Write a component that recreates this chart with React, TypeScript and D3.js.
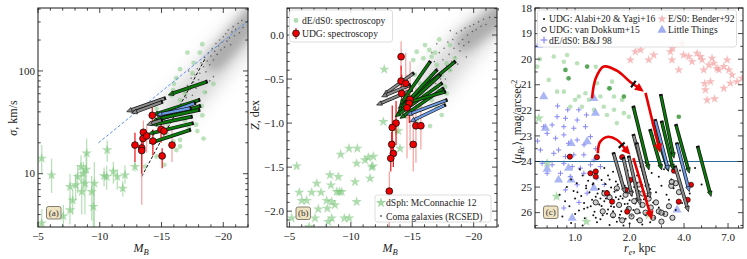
import React, { useEffect, useRef } from "react";
import * as d3 from "d3";

const W = 747, H = 259;
const FONT = "'Liberation Serif','DejaVu Serif',serif";

// ---------------- Panel (a): sigma vs M_B ----------------
const dsphA = [
  [-5.3, 14.1, 10, 19], [-6.1, 9.7, 6.5, 14], [-8.94, 15.8, 10, 22], [-10.6, 17.0, 13, 21], [-8.48, 11.7, 8, 15],
  [-8.9, 11.0, 7, 16], [-8.67, 10.0, 7, 13], [-8.21, 9.35, 6.5, 12], [-7.59, 7.47, 5, 10], [-8.05, 7.76, 5.5, 10],
  [-8.8, 8.06, 4, 12], [-9.56, 8.06, 3, 13], [-8.54, 6.68, 4, 9], [-9.35, 6.68, 3.5, 9.5], [-7.81, 5.5, 4, 7],
  [-7.59, 4.43, 3.2, 6], [-7.05, 3.87, 3, 5], [-5.3, 3.3, 3, 4.5], [-9.48, 4.78, 3, 7.5], [-10.56, 9.35, 7, 12],
  [-11.1, 10.5, 8, 13], [-11.42, 9.35, 7, 11], [-12.04, 9.7, 8, 12], [-11.86, 7.2, 6, 8.5], [-12.85, 11.7, 10.5, 13],
  [-10.35, 9.5, 7.5, 11.5],
];
const deA = [
  [-17.1, 151], [-18.3, 182], [-18.1, 151], [-16.5, 104], [-16.2, 85], [-15.95, 65], [-15.8, 58], [-17.0, 65],
  [-16.9, 60], [-16.5, 52], [-17.36, 45], [-18.25, 45.6], [-18.3, 37], [-16.6, 37.4], [-15.4, 24.8], [-15.96, 20.5],
  [-16.5, 21.3], [-16.5, 18.4], [-15.23, 12.2], [-18.4, 22], [-14.6, 14.7], [-16.2, 17], [-17.6, 120], [-16.0, 75],
  [-17.8, 30], [-17.2, 28], [-16.9, 33], [-15.5, 30], [-15.0, 35], [-16.0, 42], [-17.5, 95], [-18.5, 62],
  [-19.2, 75], [-14.6, 43], [-13.66, 11.7], [-17.9, 26],
];
const comaA = [
  [-16.8, 48], [-16.9, 62], [-17.0, 55], [-17.1, 72], [-17.2, 40], [-17.3, 66], [-17.4, 85], [-17.5, 58],
  [-17.6, 78], [-17.7, 92], [-17.8, 68], [-17.9, 105], [-18.0, 82], [-18.1, 95], [-18.2, 120], [-18.3, 74],
  [-18.4, 110], [-18.5, 135], [-18.6, 98], [-18.7, 125], [-18.8, 150], [-18.9, 115], [-19.0, 140], [-19.1, 165],
  [-19.2, 128], [-19.3, 155], [-19.4, 185], [-19.5, 145], [-19.6, 175], [-19.7, 200], [-19.8, 160], [-19.9, 190],
  [-20.0, 215], [-20.1, 170], [-20.2, 230], [-20.3, 195], [-20.4, 250], [-20.5, 210], [-20.6, 180], [-20.7, 240],
  [-20.8, 270], [-20.9, 220], [-21.0, 255], [-21.2, 290], [-21.3, 235], [-21.5, 310], [-21.6, 265], [-17.5, 45],
  [-18.0, 52], [-16.5, 38], [-18.6, 62], [-19.2, 88], [-17.2, 100], [-18.9, 80],
];
const cloudA = [[-16.2, 42], [-17.5, 62], [-18.5, 85], [-19.5, 120], [-20.5, 165], [-21.5, 230], [-22.6, 330]];
const cloudCoreA = [[-19.3, 125], [-20.5, 180], [-21.5, 250], [-22.6, 360]];
// M, sigma, err lo, err hi, faint bar (1) or strong (0)
const udgA = [
  [-12.85, 19, 13, 25, 0], [-13.4, 17.8, 5.0, 24, 1], [-13.4, 16.8, 10, 22, 0], [-13.53, 25.3, 19, 33, 1],
  [-13.5, 22, 17, 27, 0], [-13.8, 23.3, 16, 29, 1], [-14.3, 20.8, 15, 27, 0], [-14.25, 37, 30, 44, 0],
  [-14.96, 27, 20, 34, 0], [-15.2, 26, 22, 32, 1], [-15.05, 14.9, 11.3, 17.7, 0], [-15.85, 19, 13, 28, 1],
];
// kind, tail M, tail sigma, head M, head sigma
const arrowsA = [
  ["g", -18.66, 78.7, -15.55, 58.4], ["k", -15.28, 54.2, -12.18, 40.2], ["k", -15.04, 49.9, -12.59, 38.7],
  ["g", -18.06, 52.3, -14.31, 37.3], ["b", -17.71, 48.7, -14.64, 35.9], ["g", -18.12, 45.6, -14.23, 32.1],
  ["g", -18.06, 41.7, -14.55, 33.9], ["b", -17.36, 43.4, -14.61, 37.3], ["g", -17.45, 35.9, -14.2, 29.8],
  ["g", -17.53, 31, -13.93, 24.4], ["g", -17.31, 26.7, -14.01, 19.8], ["k", -15.02, 33.3, -13.8, 29.8],
];
const blueLineA = [[-9.9, 20], [-22.1, 314]];
const blackDashA = [[-13.4, 9.4], [-18.5, 130]];

// ---------------- Panel (b): Z vs M_B ----------------
const dsphB = [
  [-12.72, -0.39], [-12.64, -0.985], [-13.86, -1.088], [-14.0, -1.288], [-11.83, -1.38], [-11.7, -1.5],
  [-5.59, -1.489], [-9.17, -1.356], [-9.85, -1.288], [-10.53, -1.288], [-10.47, -1.458], [-11.15, -1.42],
  [-11.42, -1.39], [-11.78, -1.489], [-11.56, -1.628], [-10.34, -1.667], [-8.3, -1.59], [-8.98, -1.61],
  [-7.22, -1.685], [-7.57, -1.787], [-6.81, -1.787], [-5.8, -1.787], [-8.38, -1.705], [-8.85, -1.78],
  [-9.06, -1.78], [-9.25, -1.78], [-6.0, -1.88], [-6.4, -1.88], [-8.03, -1.88], [-8.44, -1.894],
  [-8.7, -1.93], [-10.47, -1.894], [-7.35, -1.977], [-8.08, -1.97], [-5.18, -2.08], [-7.08, -2.08],
  [-8.16, -2.12], [-8.44, -2.08], [-9.47, -2.08], [-9.87, -2.08], [-6.6, -2.18],
];
const deB = [
  [-16.04, -0.114], [-16.39, -0.17], [-16.58, -0.246], [-16.85, -0.2], [-15.36, -0.19], [-15.9, -0.265],
  [-16.99, -0.34], [-17.8, -0.32], [-18.07, -0.4], [-18.48, -0.265], [-17.4, -0.455], [-16.45, -0.53],
  [-16.99, -0.606], [-15.63, -0.549], [-17.67, -0.587], [-15.9, -0.663], [-17.8, -0.663], [-16.58, -0.739],
  [-15.63, -0.815], [-16.99, -0.815], [-17.4, -0.909], [-16.45, -1.034], [-15.36, -0.966], [-14.55, -0.928],
  [-15.08, -0.284], [-18.07, -0.114], [-13.73, -1.099], [-15.2, -0.45], [-17.2, -0.05],
];
const comaB = [
  [-16.5, -0.45], [-16.8, -0.3], [-17.0, -0.38], [-17.2, -0.2], [-17.3, -0.5], [-17.5, -0.28], [-17.6, -0.15],
  [-17.8, -0.35], [-17.9, -0.08], [-18.0, -0.22], [-18.2, -0.3], [-18.3, -0.05], [-18.4, -0.15], [-18.5, -0.25],
  [-18.6, 0.02], [-18.8, -0.1], [-18.9, -0.18], [-19.0, 0.05], [-19.1, -0.05], [-19.2, -0.12], [-19.3, 0.08],
  [-19.5, 0.0], [-19.6, -0.08], [-19.7, 0.1], [-19.9, 0.04], [-20.0, 0.12], [-20.2, 0.06], [-20.4, 0.15],
  [-20.6, 0.1], [-20.8, 0.18], [-21.0, 0.12], [-21.3, 0.2], [-16.9, -0.55], [-17.4, -0.42], [-18.1, -0.4],
  [-16.6, -0.2], [-17.7, -0.5], [-18.7, -0.33], [-19.4, -0.25], [-16.3, -0.35], [-17.0, -0.1], [-18.1, 0.05],
];
const cloudB = [[-16.5, -0.6], [-17.5, -0.42], [-18.5, -0.25], [-19.5, -0.1], [-20.5, 0.04], [-21.5, 0.16], [-22.6, 0.28]];
const cloudCoreB = [[-19.3, -0.07], [-20.5, 0.06], [-21.5, 0.17], [-22.6, 0.28]];
const udgB = [
  [-14.09, -0.246, -0.4, -0.07, 1], [-14.09, -0.523, -0.7, -0.35, 0], [-14.47, -0.549, -0.9, -0.2, 1],
  [-14.14, -0.663, -0.85, -0.45, 0], [-14.82, -0.731, -1.3, -0.3, 1], [-14.76, -0.776, -1.0, -0.55, 0],
  [-14.57, -0.826, -1.4, -0.45, 1], [-13.68, -1.0, -1.25, -0.75, 0], [-13.37, -1.05, -1.3, -0.8, 0],
  [-15.3, -1.03, -1.45, -0.6, 1], [-15.7, -1.03, -1.3, -0.8, 1], [-13.33, -1.242, -1.4, -1.1, 0],
  [-15.08, -1.242, -1.55, -0.85, 1], [-13.46, -1.345, -1.5, -1.2, 0], [-13.25, -1.4, -1.55, -1.25, 0],
  [-13.13, -1.773, -2.2, -1.55, 1],
];
const arrowsB = [
  ["k", -15.09, -0.435, -12.64, -0.682], ["k", -14.95, -0.625, -12.1, -0.795], ["k", -14.82, -0.568, -12.51, -0.701],
  ["g", -16.45, -0.303, -14.0, -0.795], ["g", -18.48, -0.303, -13.86, -0.833], ["g", -16.99, -0.398, -13.86, -0.872],
  ["g", -17.26, -0.455, -13.73, -0.909], ["g", -17.4, -0.549, -13.6, -0.928], ["g", -17.53, -0.606, -14.0, -0.947],
  ["g", -17.67, -0.644, -14.4, -0.776], ["b", -17.8, -0.739, -14.55, -0.909], ["b", -17.67, -0.795, -14.82, -0.985],
];

// ---------------- Panel (c): <mu> vs r_e ----------------
const udgDotsC = [
  [1.06, 24.3], [1.22, 24.45], [1.45, 24.25], [1.62, 24.4], [1.95, 24.35], [2.3, 24.2], [2.65, 24.45], [3.1, 24.3],
  [3.8, 24.35], [4.6, 24.25], [2.45, 24.05], [3.4, 24.1],
  [0.95, 24.7], [1.1, 24.55], [1.18, 24.75], [1.3, 24.6], [1.4, 24.72], [1.52, 24.55], [1.68, 24.78], [1.8, 24.6],
  [2.05, 24.7], [2.2, 24.55], [2.45, 24.75], [2.9, 24.6], [3.4, 24.7], [4.1, 24.58],
  [0.9, 25.0], [1.02, 24.85], [1.15, 25.05], [1.25, 24.9], [1.35, 25.08], [1.47, 24.88], [1.58, 25.02], [1.72, 24.9],
  [1.85, 25.06], [1.98, 24.85], [2.12, 25.0], [2.35, 24.92], [2.6, 25.08], [3.0, 24.95], [3.5, 25.05], [5.0, 24.9],
  [0.82, 25.3], [0.98, 25.15], [1.08, 25.35], [1.2, 25.2], [1.3, 25.38], [1.42, 25.15], [1.55, 25.3], [1.65, 25.18],
  [1.78, 25.36], [1.92, 25.22], [2.05, 25.32], [2.25, 25.15], [2.5, 25.35], [2.8, 25.2], [3.2, 25.3], [4.3, 25.25],
  [0.88, 25.55], [1.0, 25.45], [1.12, 25.62], [1.24, 25.5], [1.36, 25.68], [1.48, 25.45], [1.6, 25.6], [1.74, 25.48],
  [1.88, 25.66], [2.0, 25.52], [2.15, 25.64], [2.4, 25.48], [2.7, 25.6], [3.3, 25.5], [3.9, 25.62],
  [0.78, 25.85], [0.93, 25.75], [1.05, 25.92], [1.17, 25.8], [1.28, 25.96], [1.4, 25.74], [1.52, 25.88], [1.64, 25.78],
  [1.8, 25.95], [1.95, 25.82], [2.1, 25.9], [2.3, 25.76], [2.55, 25.94], [2.9, 25.8], [3.6, 25.9],
  [0.85, 26.15], [1.0, 26.05], [1.13, 26.22], [1.26, 26.1], [1.38, 26.26], [1.5, 26.04], [1.62, 26.18], [1.77, 26.08],
  [1.9, 26.24], [2.05, 26.12], [2.2, 26.28], [2.45, 26.1], [2.75, 26.2], [3.1, 26.05],
  [0.95, 26.4], [1.1, 26.5], [1.32, 26.38], [1.55, 26.48], [1.7, 26.36], [1.85, 26.5], [2.0, 26.42], [2.35, 26.46], [2.6, 26.38],
  [1.15, 24.95], [1.33, 25.25], [1.45, 25.55], [1.58, 25.75], [1.7, 25.1], [1.83, 25.45], [1.95, 25.65], [2.08, 25.2],
  [1.22, 25.75], [1.38, 25.45], [1.5, 25.15], [1.62, 25.95], [1.75, 26.2], [1.88, 24.95], [1.3, 26.2], [1.12, 25.85],
  [1.42, 26.1], [2.18, 25.45], [2.28, 26.0], [1.03, 25.2], [1.26, 24.85], [1.68, 25.4], [1.55, 24.7], [1.97, 26.0], [2.2, 24.85],
];
const vdkC = [
  [1.3, 25.6], [1.42, 25.95], [1.55, 25.4], [1.62, 26.1], [1.75, 25.7], [1.82, 26.3], [1.9, 25.3], [1.98, 25.85],
  [2.05, 26.15], [2.12, 25.55], [2.2, 25.95], [2.28, 26.3], [2.36, 25.7], [2.45, 26.0], [2.55, 25.45], [2.62, 25.8],
  [2.7, 26.2], [2.8, 25.6], [2.9, 25.95], [3.0, 26.35], [3.15, 26.05], [3.3, 25.75], [3.45, 26.2], [3.6, 24.85],
  [3.75, 25.2], [3.4, 24.95], [3.0, 26.0], [3.42, 24.8], [1.7, 25.05], [2.0, 25.15], [1.45, 25.25], [2.35, 25.25], [2.25, 24.9],
];
const udgRedC = [
  [0.935, 23.81], [1.32, 23.83], [1.82, 23.83], [1.215, 24.46], [1.3, 24.39], [1.3, 24.59], [1.5, 25.24], [1.6, 25.57],
  [1.94, 25.96], [2.02, 24.72], [3.74, 25.57], [4.19, 25.5], [4.37, 24.91], [3.52, 24.36], [1.9, 25.1],
];
const bjPlusC = [
  [0.7, 22.9], [0.78, 23.09], [0.866, 22.96], [0.92, 23.29], [1.026, 23.16], [1.12, 23.35], [1.215, 23.03], [0.643, 23.55],
  [0.762, 23.68], [0.81, 23.55], [0.884, 23.81], [0.983, 23.74], [1.117, 23.74], [1.27, 23.94], [0.657, 24.07], [0.746, 24.13],
  [0.866, 24.07], [0.963, 24.2], [1.07, 24.26], [1.215, 24.13], [1.38, 24.2], [0.7, 24.46], [0.83, 24.46], [0.94, 24.59],
  [1.117, 24.46], [1.32, 24.65], [1.026, 24.91], [0.884, 25.11], [1.165, 25.24], [1.5, 25.3], [0.866, 25.82], [0.8, 21.83],
  [0.91, 21.98], [1.048, 21.98], [0.795, 22.25], [0.884, 22.31], [1.026, 22.38], [1.155, 22.18], [0.67, 22.64], [0.746, 22.57],
  [0.866, 22.64], [0.983, 22.7], [1.14, 22.64], [0.62, 23.2], [1.3, 23.5], [1.45, 24.9], [1.6, 25.5], [1.05, 25.6],
];
const ltTriC = [
  [0.63, 19.45], [0.67, 21.46], [1.27, 21.53], [1.295, 22.11], [0.685, 22.7], [0.95, 23.29], [1.165, 23.22], [0.81, 24.72],
  [0.92, 24.26], [0.95, 24.72], [1.27, 25.04], [3.66, 25.89], [0.963, 26.21], [2.84, 22.9], [0.7, 24.3],
];
const dsphC = [[0.63, 22.31], [0.7, 24.07], [0.79, 25.37], [0.706, 25.89], [1.155, 26.35], [2.55, 26.09]];
const deC = [
  [0.715, 20.81], [0.762, 19.9], [0.866, 20.1], [0.903, 19.84], [1.026, 20.16], [1.048, 21.46], [1.14, 21.33], [1.32, 20.94],
  [1.535, 21.14], [1.6, 20.88], [1.64, 21.46], [1.38, 21.46], [1.27, 21.98], [1.44, 21.86], [1.09, 21.86], [1.19, 21.59],
  [1.64, 21.98], [1.82, 21.59], [1.86, 22.11], [1.98, 22.25], [1.5, 22.18], [0.866, 21.27], [1.0, 21.59], [0.617, 20.29],
  [0.638, 20.0], [0.795, 21.27], [0.94, 21.86], [1.3, 20.3], [2.1, 21.9], [1.7, 22.5],
];
const deDarkC = [[0.884, 20.42], [1.165, 20.29], [1.55, 21.14], [3.74, 22.25], [0.92, 20.75], [1.86, 21.46]];
const benderC = [
  [2.15, 19.71], [2.3, 19.64], [2.72, 19.84], [2.55, 20.03], [2.02, 20.03], [3.36, 19.71], [3.43, 20.03], [3.74, 20.42],
  [3.9, 19.38], [3.46, 19.57], [3.98, 19.84], [4.25, 19.9], [4.43, 20.1], [4.72, 19.77], [4.92, 19.9], [5.03, 20.03],
  [5.14, 20.42], [5.48, 20.23], [5.71, 19.96], [5.84, 20.16], [6.09, 20.36], [6.63, 20.29], [7.07, 20.42], [7.37, 20.62],
  [7.85, 20.88], [8.37, 20.75], [5.25, 21.2], [5.36, 21.6], [6.22, 20.42], [6.92, 20.03], [7.21, 20.94], [6.63, 21.14],
  [5.6, 20.88], [5.9, 21.55], [5.2, 20.95],
];
const arrowsC = [
  ["g", 2.976, 21.4, 3.52, 23.87], ["g", 2.1, 21.86, 2.56, 24.33], ["g", 2.6, 22.77, 3.01, 24.33],
  ["g", 3.01, 22.44, 3.49, 24.33], ["g", 3.61, 22.57, 4.28, 24.46], ["g", 4.76, 23.42, 5.64, 25.37],
  ["g", 2.71, 22.5, 3.28, 24.39], ["b", 2.77, 22.38, 3.28, 24.36], ["b", 3.65, 23.29, 4.28, 25.18],
  ["k", 2.1, 22.96, 2.54, 25.11], ["k", 2.19, 23.29, 2.6, 25.43], ["k", 3.57, 24.2, 4.23, 25.96],
  ["k", 1.63, 23.68, 1.89, 25.24], ["k", 1.85, 23.87, 2.06, 25.37], ["k", 1.98, 23.81, 2.29, 25.7],
];
const redCurve1 = [[1.24, 21.53], [1.3, 20.75], [1.44, 20.29], [1.7, 20.45], [2.01, 20.88], [2.4, 21.27]];
const redLine1 = [[2.45, 21.32], [2.95, 23.66]];
const redCurve2 = [[1.335, 23.68], [1.37, 23.25], [1.5, 23.04], [1.7, 23.15], [2.02, 23.74]];
const redLine2 = [[2.1, 23.87], [2.66, 26.28]];
const refLevelC = 24;

const ARROW_COL = { g: "#0b7a0b", b: "#6e9be6", k: "#8a8a8a" };

function fmtMinus(v, d) {
  const s = Math.abs(v).toFixed(d);
  return v < 0 ? "\u2212" + s : s;
}

function drawFrame(g, box, xs, ys, xMaj, xMin, yMaj, yMin, xFmt, yFmt) {
  const tk = g.append("g").attr("stroke", "#1a1a1a").attr("stroke-width", 0.8);
  const tick = (x1, y1, x2, y2) => tk.append("line").attr("x1", x1).attr("y1", y1).attr("x2", x2).attr("y2", y2);
  xMaj.forEach((v) => { const X = xs(v); tick(X, box.b, X, box.b - 5); tick(X, box.t, X, box.t + 5); });
  xMin.forEach((v) => { const X = xs(v); tick(X, box.b, X, box.b - 2.7); tick(X, box.t, X, box.t + 2.7); });
  yMaj.forEach((v) => { const Y = ys(v); tick(box.l, Y, box.l + 5, Y); tick(box.r, Y, box.r - 5, Y); });
  yMin.forEach((v) => { const Y = ys(v); tick(box.l, Y, box.l + 2.7, Y); tick(box.r, Y, box.r - 2.7, Y); });
  g.append("rect").attr("x", box.l).attr("y", box.t).attr("width", box.r - box.l).attr("height", box.b - box.t)
    .attr("fill", "none").attr("stroke", "#1a1a1a").attr("stroke-width", 1);
  const lab = g.append("g").attr("font-family", FONT).attr("font-size", 11).attr("fill", "#222");
  xMaj.forEach((v) => lab.append("text").attr("x", xs(v)).attr("y", box.b + 12.5).attr("text-anchor", "middle").text(xFmt(v)));
  yMaj.forEach((v) => lab.append("text").attr("x", box.l - 3).attr("y", ys(v) + 3.6).attr("text-anchor", "end").text(yFmt(v)));
}

function drawArrow(g, x1, y1, x2, y2, color, w) {
  const dx = x2 - x1, dy = y2 - y1, L = Math.hypot(dx, dy);
  const ux = dx / L, uy = dy / L, px = -uy, py = ux;
  const hl = 5.2, hw = w * 0.5 + 1.3;
  const bx = x2 - ux * hl, by = y2 - uy * hl;
  g.append("line").attr("x1", x1).attr("y1", y1).attr("x2", bx + ux).attr("y2", by + uy)
    .attr("stroke", "#111").attr("stroke-width", w + 1.4);
  g.append("line").attr("x1", x1).attr("y1", y1).attr("x2", bx + ux).attr("y2", by + uy)
    .attr("stroke", color).attr("stroke-width", w);
  g.append("path").attr("d", `M${x2},${y2}L${bx + px * hw},${by + py * hw}L${bx - px * hw},${by - py * hw}Z`)
    .attr("fill", color).attr("stroke", "#111").attr("stroke-width", 0.7).attr("stroke-linejoin", "round");
  g.append("line").attr("x1", x1 - px * (w * 0.5 + 0.7)).attr("y1", y1 - py * (w * 0.5 + 0.7))
    .attr("x2", x1 + px * (w * 0.5 + 0.7)).attr("y2", y1 + py * (w * 0.5 + 0.7))
    .attr("stroke", "#111").attr("stroke-width", 2);
}

function redHead(g, pts, color) {
  const n = pts.length;
  const [x2, y2] = pts[n - 1];
  const [x1, y1] = pts[n - 2];
  const dx = x2 - x1, dy = y2 - y1, L = Math.hypot(dx, dy);
  const ux = dx / L, uy = dy / L, px = -uy, py = ux;
  const hl = 9, hw = 4.2;
  const bx = x2 - ux * hl, by = y2 - uy * hl;
  g.append("path").attr("d", `M${x2},${y2}L${bx + px * hw},${by + py * hw}L${bx - px * hw},${by - py * hw}Z`).attr("fill", color);
  return { bx, by, ux, uy, px, py };
}

function panelLabel(g, x, y, t) {
  g.append("rect").attr("x", x).attr("y", y).attr("width", 14.5).attr("height", 12.5).attr("rx", 2)
    .attr("fill", "#efe3c2").attr("stroke", "#6b6355").attr("stroke-width", 0.8);
  g.append("text").attr("x", x + 7.25).attr("y", y + 9.3).attr("text-anchor", "middle")
    .attr("font-family", FONT).attr("font-size", 9).attr("fill", "#333").text(t);
}

function starPath(size) { return d3.symbol().type(d3.symbolStar).size(size)(); }

export default function App() {
  const ref = useRef(null);
  useEffect(() => {
    document.body.style.margin = "0";
    const svg = d3.select(ref.current);
    svg.selectAll("*").remove();
    const defs = svg.append("defs");
    defs.append("filter").attr("id", "blurBig").attr("x", "-50%").attr("y", "-50%").attr("width", "200%").attr("height", "200%")
      .append("feGaussianBlur").attr("stdDeviation", 9);
    defs.append("filter").attr("id", "blurSmall").attr("x", "-50%").attr("y", "-50%").attr("width", "200%").attr("height", "200%")
      .append("feGaussianBlur").attr("stdDeviation", 5);

    const boxA = { l: 38, r: 248, t: 8, b: 227 };
    const boxB = { l: 287, r: 497, t: 8, b: 227 };
    const boxC = { l: 535, r: 743, t: 8, b: 228 };
    [["cA", boxA], ["cB", boxB], ["cC", boxC]].forEach(([id, b]) => {
      defs.append("clipPath").attr("id", id).append("rect").attr("x", b.l).attr("y", b.t).attr("width", b.r - b.l).attr("height", b.b - b.t);
    });

    // ========== Panel A ==========
    const xA = d3.scaleLinear().domain([-5, -22]).range([boxA.l, boxA.r]);
    const yA = d3.scaleLog().domain([3.03, 410]).range([boxA.b, boxA.t]);
    const gA = svg.append("g").attr("clip-path", "url(#cA)");
    const lineA = d3.line().x((d) => xA(d[0])).y((d) => yA(d[1])).curve(d3.curveCatmullRom);
    gA.append("path").attr("d", lineA(cloudA)).attr("fill", "none").attr("stroke", "#9a9a9a").attr("stroke-width", 30)
      .attr("stroke-linecap", "round").attr("opacity", 0.4).attr("filter", "url(#blurBig)");
    gA.append("path").attr("d", lineA(cloudCoreA)).attr("fill", "none").attr("stroke", "#8a8a8a").attr("stroke-width", 20)
      .attr("stroke-linecap", "round").attr("opacity", 0.55).attr("filter", "url(#blurSmall)");
    comaA.forEach((d) => gA.append("circle").attr("cx", xA(d[0])).attr("cy", yA(d[1])).attr("r", 0.8).attr("fill", "#444").attr("opacity", 0.75));
    deA.forEach((d) => gA.append("circle").attr("cx", xA(d[0])).attr("cy", yA(d[1])).attr("r", 2.4).attr("fill", "#8fcf8f").attr("opacity", 0.6));
    dsphA.forEach((d) => {
      gA.append("line").attr("x1", xA(d[0])).attr("x2", xA(d[0])).attr("y1", yA(d[2])).attr("y2", yA(d[3]))
        .attr("stroke", "#9ed69e").attr("stroke-width", 1.3).attr("opacity", 0.7);
    });
    dsphA.forEach((d) => gA.append("path").attr("d", starPath(34)).attr("transform", `translate(${xA(d[0])},${yA(d[1])})`)
      .attr("fill", "#7cc77c").attr("opacity", 0.6));
    gA.append("path").attr("d", d3.line().x((d) => xA(d[0])).y((d) => yA(d[1]))(blueLineA)).attr("stroke", "#5b8ff0")
      .attr("stroke-width", 1).attr("stroke-dasharray", "3,2").attr("fill", "none");
    gA.append("path").attr("d", d3.line().x((d) => xA(d[0])).y((d) => yA(d[1]))(blackDashA)).attr("stroke", "#111")
      .attr("stroke-width", 1).attr("stroke-dasharray", "3,2").attr("fill", "none");
    udgA.forEach((d) => gA.append("line").attr("x1", xA(d[0])).attr("x2", xA(d[0])).attr("y1", yA(d[2])).attr("y2", yA(d[3]))
      .attr("stroke", d[4] ? "#f4a0a0" : "#ee1111").attr("stroke-width", 1.2));
    arrowsA.forEach((a) => drawArrow(gA, xA(a[1]), yA(a[2]), xA(a[3]), yA(a[4]), ARROW_COL[a[0]], 2.3));
    udgA.forEach((d) => gA.append("circle").attr("cx", xA(d[0])).attr("cy", yA(d[1])).attr("r", 3.4)
      .attr("fill", "#ee0000").attr("stroke", "#111").attr("stroke-width", 0.8));
    const fA = svg.append("g");
    const minorA = d3.range(-5, -22.5, -1).filter((v) => v % 5 !== 0);
    const yMinA = [4, 5, 6, 7, 8, 9, 20, 30, 40, 50, 60, 70, 80, 90, 200, 300, 400];
    drawFrame(fA, boxA, xA, yA, [-5, -10, -15, -20], minorA, [10, 100], yMinA, (v) => fmtMinus(v, 0), (v) => String(v));
    panelLabel(svg, 46.5, 206.5, "(a)");
    const tA = svg.append("text").attr("font-family", FONT).attr("font-size", 12).attr("fill", "#222")
      .attr("text-anchor", "middle").attr("transform", "translate(17,118) rotate(-90)");
    tA.append("tspan").attr("font-style", "italic").text("\u03c3");
    tA.append("tspan").text(", km/s");
    const mA = svg.append("text").attr("font-family", FONT).attr("font-size", 12).attr("fill", "#222")
      .attr("x", 141).attr("y", 252).attr("text-anchor", "middle");
    mA.append("tspan").attr("font-style", "italic").text("M");
    mA.append("tspan").attr("font-style", "italic").attr("font-size", 8.5).attr("dy", 2.5).text("B");

    // ========== Panel B ==========
    const xB = d3.scaleLinear().domain([-4.8, -21.9]).range([boxB.l, boxB.r]);
    const yB = d3.scaleLinear().domain([-2.18, 0.307]).range([boxB.b, boxB.t]);
    const gB = svg.append("g").attr("clip-path", "url(#cB)");
    const lineB = d3.line().x((d) => xB(d[0])).y((d) => yB(d[1])).curve(d3.curveCatmullRom);
    gB.append("path").attr("d", lineB(cloudB)).attr("fill", "none").attr("stroke", "#9a9a9a").attr("stroke-width", 30)
      .attr("stroke-linecap", "round").attr("opacity", 0.4).attr("filter", "url(#blurBig)");
    gB.append("path").attr("d", lineB(cloudCoreB)).attr("fill", "none").attr("stroke", "#8a8a8a").attr("stroke-width", 20)
      .attr("stroke-linecap", "round").attr("opacity", 0.55).attr("filter", "url(#blurSmall)");
    comaB.forEach((d) => gB.append("circle").attr("cx", xB(d[0])).attr("cy", yB(d[1])).attr("r", 0.8).attr("fill", "#444").attr("opacity", 0.75));
    deB.forEach((d) => gB.append("circle").attr("cx", xB(d[0])).attr("cy", yB(d[1])).attr("r", 2.4).attr("fill", "#8fcf8f").attr("opacity", 0.6));
    dsphB.forEach((d) => gB.append("path").attr("d", starPath(34)).attr("transform", `translate(${xB(d[0])},${yB(d[1])})`)
      .attr("fill", "#7cc77c").attr("opacity", 0.6));
    udgB.forEach((d) => gB.append("line").attr("x1", xB(d[0])).attr("x2", xB(d[0])).attr("y1", yB(d[2])).attr("y2", yB(d[3]))
      .attr("stroke", d[4] ? "#f4a0a0" : "#ee1111").attr("stroke-width", 1.2));
    arrowsB.forEach((a) => drawArrow(gB, xB(a[1]), yB(a[2]), xB(a[3]), yB(a[4]), ARROW_COL[a[0]], 2.1));
    udgB.forEach((d) => gB.append("circle").attr("cx", xB(d[0])).attr("cy", yB(d[1])).attr("r", 3.4)
      .attr("fill", "#ee0000").attr("stroke", "#111").attr("stroke-width", 0.8));
    const fB = svg.append("g");
    const minorB = d3.range(-2.1, 0.35, 0.1).map((v) => +v.toFixed(1)).filter((v) => Math.abs((v * 2) % 1) > 0.01);
    drawFrame(fB, boxB, xB, yB, [-5, -10, -15, -20], minorA, [0, -0.5, -1, -1.5, -2], minorB, (v) => fmtMinus(v, 0), (v) => fmtMinus(v, 1));
    panelLabel(svg, 296, 207, "(b)");
    const tB = svg.append("text").attr("font-family", FONT).attr("font-size", 12).attr("fill", "#222")
      .attr("text-anchor", "middle").attr("transform", "translate(259,115) rotate(-90)");
    tB.append("tspan").attr("font-style", "italic").text("Z");
    tB.append("tspan").text(", dex");
    const mB = svg.append("text").attr("font-family", FONT).attr("font-size", 12).attr("fill", "#222")
      .attr("x", 390).attr("y", 252).attr("text-anchor", "middle");
    mB.append("tspan").attr("font-style", "italic").text("M");
    mB.append("tspan").attr("font-style", "italic").attr("font-size", 8.5).attr("dy", 2.5).text("B");
    // legends in B
    const lg1 = svg.append("g").attr("font-family", FONT).attr("font-size", 9.6).attr("fill", "#222");
    lg1.append("rect").attr("x", 289.5).attr("y", 10).attr("width", 103).attr("height", 32).attr("rx", 2.5)
      .attr("fill", "#fff").attr("fill-opacity", 0.85).attr("stroke", "#d5d5d5").attr("stroke-width", 0.8);
    lg1.append("circle").attr("cx", 296).attr("cy", 20.5).attr("r", 2.4).attr("fill", "#8fcf8f").attr("opacity", 0.7);
    lg1.append("text").attr("x", 302).attr("y", 24).text("dE/dS0: spectroscopy");
    lg1.append("line").attr("x1", 296).attr("x2", 296).attr("y1", 28).attr("y2", 39).attr("stroke", "#ee1111").attr("stroke-width", 1.1);
    lg1.append("circle").attr("cx", 296).attr("cy", 33.3).attr("r", 3.4).attr("fill", "#ee0000").attr("stroke", "#111").attr("stroke-width", 0.8);
    lg1.append("text").attr("x", 302).attr("y", 37).text("UDG: spectroscopy");
    const lg2 = svg.append("g").attr("font-family", FONT).attr("font-size", 9.6).attr("fill", "#222");
    lg2.append("rect").attr("x", 375).attr("y", 195).attr("width", 116).attr("height", 27).attr("rx", 2.5)
      .attr("fill", "#fff").attr("fill-opacity", 0.85).attr("stroke", "#d5d5d5").attr("stroke-width", 0.8);
    lg2.append("path").attr("d", starPath(34)).attr("transform", "translate(381,202.8)").attr("fill", "#7cc77c").attr("opacity", 0.7);
    lg2.append("text").attr("x", 386).attr("y", 206.3).text("dSph: McConnachie 12");
    lg2.append("circle").attr("cx", 381).attr("cy", 216).attr("r", 0.9).attr("fill", "#555");
    lg2.append("text").attr("x", 386).attr("y", 219.5).text("Coma galaxies (RCSED)");

    // ========== Panel C ==========
    const xC = d3.scaleLog().domain([0.6, 8.47]).range([boxC.l, boxC.r]);
    const yC = d3.scaleLinear().domain([18, 26.6]).range([boxC.t, boxC.b]);
    const gC = svg.append("g").attr("clip-path", "url(#cC)");
    benderC.forEach((d) => gC.append("path").attr("d", starPath(26)).attr("transform", `translate(${xC(d[0])},${yC(d[1])})`)
      .attr("fill", "#f29a9a").attr("opacity", 0.65));
    deC.forEach((d) => gC.append("circle").attr("cx", xC(d[0])).attr("cy", yC(d[1])).attr("r", 2.3).attr("fill", "#8fcf8f").attr("opacity", 0.6));
    deDarkC.forEach((d) => gC.append("circle").attr("cx", xC(d[0])).attr("cy", yC(d[1])).attr("r", 2.3).attr("fill", "#3c993c").attr("opacity", 0.85));
    dsphC.forEach((d) => gC.append("path").attr("d", starPath(34)).attr("transform", `translate(${xC(d[0])},${yC(d[1])})`)
      .attr("fill", "#7cc77c").attr("opacity", 0.6));
    bjPlusC.forEach((d) => {
      const X = xC(d[0]), Y = yC(d[1]);
      gC.append("path").attr("d", `M${X - 2.6},${Y}H${X + 2.6}M${X},${Y - 2.6}V${Y + 2.6}`).attr("stroke", "#7070f5").attr("stroke-width", 1).attr("opacity", 0.85);
    });
    ltTriC.forEach((d) => gC.append("path").attr("d", d3.symbol().type(d3.symbolTriangle).size(36)())
      .attr("transform", `translate(${xC(d[0])},${yC(d[1])})`).attr("fill", "#8f9ff0").attr("opacity", 0.75));
    udgDotsC.forEach((d) => gC.append("circle").attr("cx", xC(d[0])).attr("cy", yC(d[1])).attr("r", 1).attr("fill", "#111"));
    vdkC.forEach((d) => gC.append("circle").attr("cx", xC(d[0])).attr("cy", yC(d[1])).attr("r", 2.6)
      .attr("fill", "#a0a0a0").attr("fill-opacity", 0.5).attr("stroke", "#222").attr("stroke-width", 0.9));
    udgRedC.forEach((d) => gC.append("circle").attr("cx", xC(d[0])).attr("cy", yC(d[1])).attr("r", 2.6)
      .attr("fill", "#ee0000").attr("stroke", "#111").attr("stroke-width", 0.7));
    gC.append("line").attr("x1", boxC.l).attr("x2", boxC.r).attr("y1", yC(refLevelC)).attr("y2", yC(refLevelC))
      .attr("stroke", "#2b6a98").attr("stroke-width", 1);
    arrowsC.forEach((a) => drawArrow(gC, xC(a[1]), yC(a[2]), xC(a[3]), yC(a[4]), ARROW_COL[a[0]], 2.1));
    const toPx = (pts) => pts.map((d) => [xC(d[0]), yC(d[1])]);
    const curveGen = d3.line().curve(d3.curveCatmullRom);
    [[redCurve1, redLine1], [redCurve2, redLine2]].forEach(([cv, ln]) => {
      const pc = toPx(cv);
      const hc = redHead(gC, pc, "#e60000");
      const trimmed = pc.slice(0, -1).concat([[hc.bx + hc.ux, hc.by + hc.uy]]);
      gC.append("path").attr("d", curveGen(trimmed)).attr("fill", "none").attr("stroke", "#e60000").attr("stroke-width", 2.6);
      const mx = hc.bx - hc.ux * 4, my = hc.by - hc.uy * 4;
      gC.append("line").attr("x1", mx - hc.px * 4).attr("y1", my - hc.py * 4).attr("x2", mx + hc.px * 4).attr("y2", my + hc.py * 4)
        .attr("stroke", "#111").attr("stroke-width", 2.2);
      const pl = toPx(ln);
      const hl = redHead(gC, pl, "#e60000");
      gC.append("line").attr("x1", pl[0][0]).attr("y1", pl[0][1]).attr("x2", hl.bx + hl.ux).attr("y2", hl.by + hl.uy)
        .attr("stroke", "#e60000").attr("stroke-width", 2.6);
    });
    const fC = svg.append("g");
    drawFrame(fC, boxC, xC, yC, [1, 2, 4, 7], [0.6, 0.7, 0.8, 0.9, 3, 5, 6, 8], d3.range(18, 27, 1),
      d3.range(18.5, 26.6, 1), (v) => v.toFixed(1), (v) => String(v));
    panelLabel(svg, 543.5, 206, "(c)");
    const tC = svg.append("text").attr("font-family", FONT).attr("font-size", 11.5).attr("fill", "#222")
      .attr("text-anchor", "middle").attr("transform", "translate(521,122) rotate(-90)");
    tC.append("tspan").text("\u27e8");
    tC.append("tspan").attr("font-style", "italic").text("\u03bc");
    tC.append("tspan").attr("font-style", "italic").attr("font-size", 8).attr("dy", 2.5).text("Rc");
    tC.append("tspan").attr("dy", -2.5).text("\u27e9, mag/arcsec");
    tC.append("tspan").attr("font-size", 8).attr("dy", -4).text("2");
    const rC = svg.append("text").attr("font-family", FONT).attr("font-size", 12).attr("fill", "#222")
      .attr("x", 640).attr("y", 252).attr("text-anchor", "middle");
    rC.append("tspan").attr("font-style", "italic").text("r");
    rC.append("tspan").attr("font-style", "italic").attr("font-size", 8.5).attr("dy", 2.5).text("e");
    rC.append("tspan").attr("dy", -2.5).text(", kpc");
    // legend C
    const lg3 = svg.append("g").attr("font-family", FONT).attr("font-size", 9.6).attr("fill", "#222");
    lg3.append("rect").attr("x", 537.5).attr("y", 10).attr("width", 199).attr("height", 37).attr("rx", 2.5)
      .attr("fill", "#fff").attr("fill-opacity", 0.85).attr("stroke", "#d5d5d5").attr("stroke-width", 0.8);
    lg3.append("circle").attr("cx", 544).attr("cy", 19).attr("r", 1).attr("fill", "#111");
    lg3.append("text").attr("x", 549).attr("y", 22.4).text("UDG: Alabi+20 & Yagi+16");
    lg3.append("circle").attr("cx", 544).attr("cy", 29.5).attr("r", 2.3).attr("fill", "none").attr("stroke", "#222").attr("stroke-width", 0.9);
    lg3.append("text").attr("x", 549).attr("y", 33).text("UDG: van Dokkum+15");
    lg3.append("path").attr("d", "M540.5,40H547.5M544,36.5V43.5").attr("stroke", "#7070f5").attr("stroke-width", 1);
    lg3.append("text").attr("x", 549).attr("y", 43.5).text("dE/dS0: B&J 98");
    lg3.append("path").attr("d", starPath(26)).attr("transform", "translate(662,19)").attr("fill", "#f29a9a").attr("opacity", 0.7);
    lg3.append("text").attr("x", 668).attr("y", 22.4).text("E/S0: Bender+92");
    lg3.append("path").attr("d", d3.symbol().type(d3.symbolTriangle).size(36)()).attr("transform", "translate(662,30)")
      .attr("fill", "#8f9ff0").attr("opacity", 0.85);
    lg3.append("text").attr("x", 668).attr("y", 33).text("Little Things");
  }, []);
  return <svg ref={ref} width={W} height={H} style={{ position: "absolute", left: 0, top: 0, background: "#fff" }} />;
}
